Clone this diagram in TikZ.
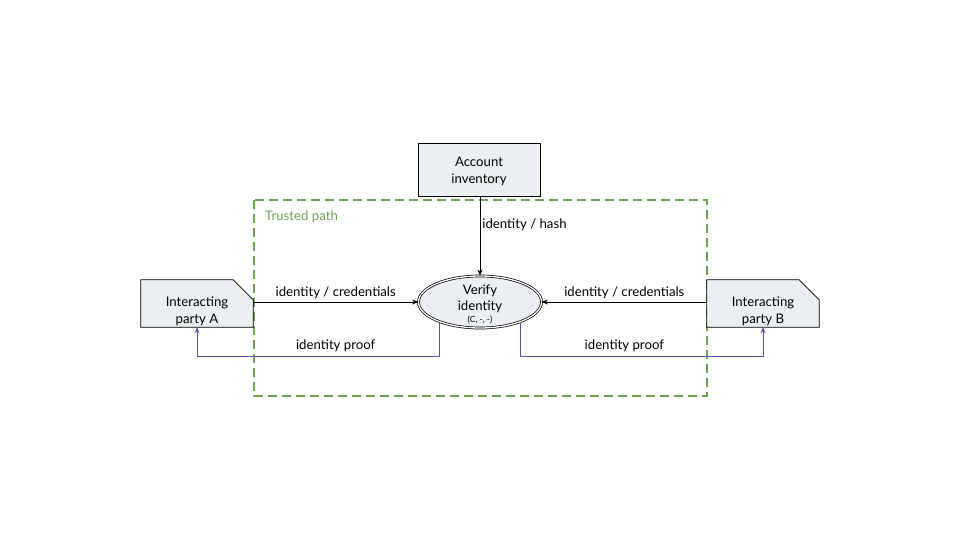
\documentclass[tikz,border=0pt]{standalone}
\usepackage{fontspec}
\setmainfont{Lato}
\usetikzlibrary{arrows.meta,shapes.geometric,calc}
\definecolor{boxfill}{HTML}{ECEFF1}
\definecolor{tgreen}{HTML}{6AA84F}
\definecolor{tpurple}{HTML}{674EA7}
\tikzset{
  boxstyle/.style={draw=black, fill=boxfill, line width=0.8pt},
  txt/.style={font=\fontsize{13.2}{17}\selectfont, align=center, inner sep=0pt},
  lbl/.style={font=\fontsize{13.2}{15}\selectfont, inner sep=0pt},
  arr/.style={line width=0.8pt, -{Stealth[length=6pt,width=5pt]}},
  parr/.style={draw=tpurple, line width=0.8pt, -{Stealth[length=6pt,width=5pt]}},
}
\begin{document}
\begin{tikzpicture}[x=1pt,y=-1pt]
\useasboundingbox[fill=white] (0,0) rectangle (960,540);
% trusted path
\draw[tgreen, line width=1.8pt, dash pattern=on 9pt off 5pt] (254,200) rectangle (707,396);
\node[lbl, text=tgreen, anchor=west] (tp) at (265,217) {Trusted path};
% account inventory
\node[boxstyle, minimum width=122pt, minimum height=53pt, txt] (inv) at (479,169.5) {};
\node[txt] (invt) at (479,171) {Account\\inventory};
% party A
\node[minimum width=112pt, minimum height=47pt, inner sep=0pt] (A) at (197,303.5) {};
\draw[boxstyle] (A.south west) -- (A.north west) -- ([xshift=-20pt]A.north east) -- ([yshift=-20pt]A.north east) -- (A.south east) -- cycle;
\node[txt] (At) at (197,311.5) {Interacting\\party A};
% party B
\node[minimum width=112pt, minimum height=47pt, inner sep=0pt] (B) at (763,303.5) {};
\draw[boxstyle] (B.south west) -- (B.north west) -- ([xshift=-20pt]B.north east) -- ([yshift=-20pt]B.north east) -- (B.south east) -- cycle;
\node[txt] (Bt) at (763,311.5) {Interacting\\party B};
% verify
\node[ellipse, draw=black, double=white, double distance=1.3pt, line width=0.7pt, fill=boxfill, minimum width=123pt, minimum height=52pt, inner sep=0pt] (ver) at (480,302) {};
\node[font=\fontsize{13.2}{16}\selectfont, align=center, inner sep=0pt] (vt) at (480,299) {Verify\\identity};
\node[font=\fontsize{8.5}{9}\selectfont, inner sep=0pt] (vs) at (480,320) {(C, -, -)};
% connectors
\draw[arr] (inv.south -| ver.north) -- (ver.north) node[pos=0.36, right=2pt, lbl] (l1) {identity / hash};
\draw[arr] (A.east |- ver.west) -- (ver.west) node[midway, above=3pt, lbl] (l2) {identity / credentials};
\draw[arr] (B.west |- ver.east) -- (ver.east) node[midway, above=3pt, lbl] (l3) {identity / credentials};
\coordinate (ly) at (0,356);
\draw[parr] (ver.206) -- (ver.206 |- ly) -| (A.south);
\draw[parr] (ver.334) -- (ver.334 |- ly) -| (B.south);
\node[lbl] (l4) at (l2 |- 0,346) {identity proof};
\node[lbl] (l5) at (l3 |- 0,346) {identity proof};
\end{tikzpicture}
\end{document}
